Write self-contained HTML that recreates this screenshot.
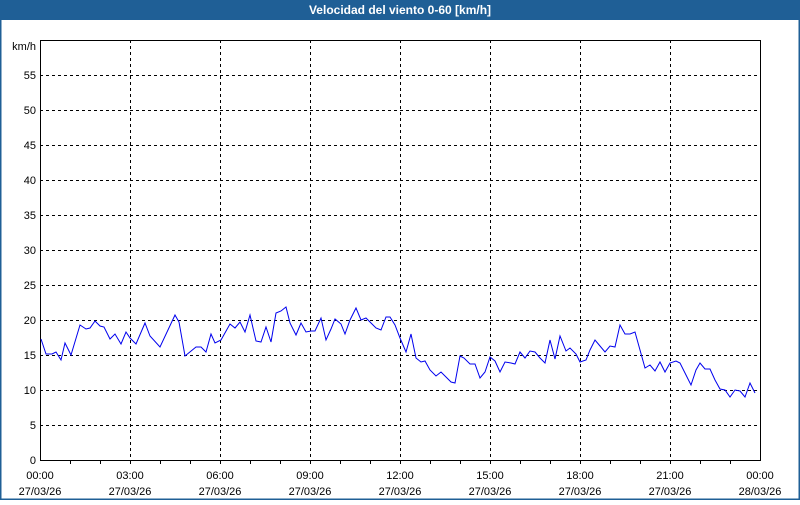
<!DOCTYPE html>
<html><head><meta charset="utf-8"><style>
html,body{margin:0;padding:0;background:#fff}
body{width:800px;height:500px;overflow:hidden;font-family:"Liberation Sans",sans-serif}
</style></head><body>
<svg width="800" height="500" xmlns="http://www.w3.org/2000/svg" font-family="Liberation Sans, sans-serif" font-size="11">
<rect x="0" y="0" width="800" height="500" fill="#fff"/>
<rect x="0" y="0" width="800" height="20" fill="#1f5f96"/>
<rect x="0" y="20" width="1.5" height="480" fill="#1f5f96"/>
<rect x="798.5" y="20" width="1.5" height="480" fill="#1f5f96"/>
<rect x="0" y="498.5" width="800" height="1.5" fill="#1f5f96"/>
<text x="400" y="14" fill="#fff" font-weight="bold" font-size="12" text-anchor="middle">Velocidad del viento 0-60 [km/h]</text>
<g stroke="#000" stroke-dasharray="3,3" stroke-width="1">
<path d="M130.5 40V460M220.5 40V460M310.5 40V460M400.5 40V460M490.5 40V460M580.5 40V460M670.5 40V460"/>
<path d="M40 75.5H760M40 110.5H760M40 145.5H760M40 180.5H760M40 215.5H760M40 250.5H760M40 285.5H760M40 320.5H760M40 355.5H760M40 390.5H760M40 425.5H760"/>
</g>
<rect x="40.5" y="40.5" width="720" height="420" fill="none" stroke="#000"/>
<g stroke="#000"><path d="M70.5 460v4M100.5 460v4M130.5 460v4M160.5 460v4M190.5 460v4M220.5 460v4M250.5 460v4M280.5 460v4M310.5 460v4M340.5 460v4M370.5 460v4M400.5 460v4M430.5 460v4M460.5 460v4M490.5 460v4M520.5 460v4M550.5 460v4M580.5 460v4M610.5 460v4M640.5 460v4M670.5 460v4M700.5 460v4M730.5 460v4"/></g>
<g text-anchor="end" fill="#000">
<text x="36" y="50">km/h</text>
<text x="36" y="79">55</text><text x="36" y="114">50</text><text x="36" y="149">45</text><text x="36" y="184">40</text><text x="36" y="219">35</text><text x="36" y="254">30</text><text x="36" y="289">25</text><text x="36" y="324">20</text><text x="36" y="359">15</text><text x="36" y="394">10</text><text x="36" y="429">5</text><text x="36" y="464">0</text>
</g>
<g text-anchor="middle" fill="#000">
<text x="40" y="479">00:00</text><text x="40" y="495">27/03/26</text>
<text x="130" y="479">03:00</text><text x="130" y="495">27/03/26</text>
<text x="220" y="479">06:00</text><text x="220" y="495">27/03/26</text>
<text x="310" y="479">09:00</text><text x="310" y="495">27/03/26</text>
<text x="400" y="479">12:00</text><text x="400" y="495">27/03/26</text>
<text x="490" y="479">15:00</text><text x="490" y="495">27/03/26</text>
<text x="580" y="479">18:00</text><text x="580" y="495">27/03/26</text>
<text x="670" y="479">21:00</text><text x="670" y="495">27/03/26</text>
<text x="760" y="479">00:00</text><text x="760" y="495">28/03/26</text>
</g>
<polyline fill="none" stroke="#0000ee" stroke-width="1" points="41,339 46,354 52,354 56,352 61,360 65,343 71,355 80,325 86,329 90,328 95,321 100,326 104,327 110,339 115,334 121,344 126,332 130,338 136,344 145,323 150,336 160,347 175,315 179,322 185,356 196,347 201,347 206,352 211,334 215,343 221,340 230,324 235,328 240,322 245,332 250,315 256,341 261,342 266,327 271,342 276,313 281,311 286,307 290,323 296,335 301,323 306,332 311,331 315,331 321,318 326,340 331,329 335,319 341,324 345,334 350,320 356,308 361,320 366,318 371,323 376,328 381,330 386,317 390,317 395,325 400,338 406,352 411,334 416,358 421,362 425,361 430,370 436,376 441,372 446,377 451,382 455,383 460,356 464,358 470,364 475,364 480,378 485,372 490,357 495,361 500,372 505,362 511,363 515,364 520,352 525,358 530,351 535,352 540,358 545,363 550,340 555,359 560,336 566,351 570,348 576,354 580,362 586,360 590,350 595,340 600,346 605,352 610,346 615,347 620,325 625,334 630,334 635,332 640,350 645,368 650,365 655,371 660,362 665,372 670,363 676,361 680,363 685,373 691,385 696,370 700,363 705,369 710,369 715,380 720,389 725,390 730,397 735,390 740,391 745,397 750,383 755,393"/>
</svg>
</body></html>
